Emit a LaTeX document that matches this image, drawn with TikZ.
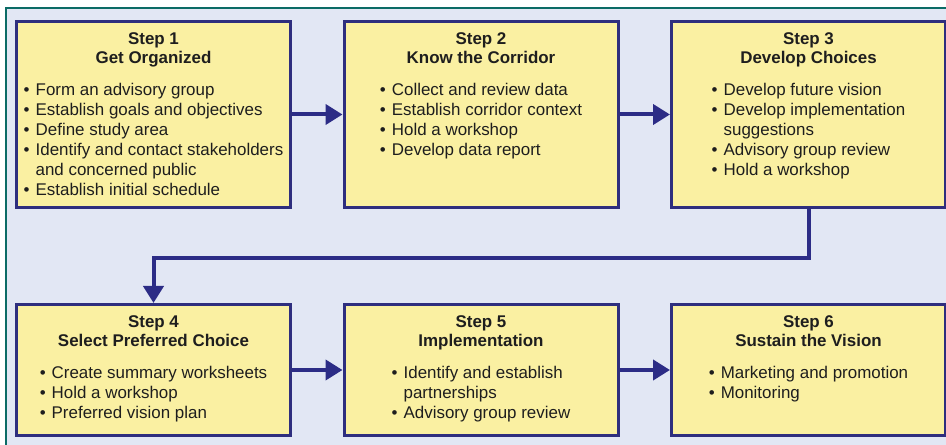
\documentclass[tikz,border=0pt]{standalone}
\usepackage{fontspec}
\setmainfont{Liberation Sans}
\usepackage{tikz}
\usetikzlibrary{arrows.meta,positioning}
\definecolor{boxfill}{HTML}{FAF0A2}
\definecolor{boxline}{HTML}{2E2E7E}
\definecolor{flowline}{HTML}{2C2C86}
\definecolor{framebg}{HTML}{E2E7F4}
\definecolor{frameline}{HTML}{0B6B66}
\definecolor{textc}{HTML}{1E1E1E}
\newcommand{\itm}[1]{\textbullet\hspace{6bp}#1}
\newcommand{\cnt}[1]{\hphantom{\textbullet\hspace{6bp}}#1}

\begin{document}
\begin{tikzpicture}[>={Triangle[length=17bp,width=20bp]}, line join=miter]
      \tikzstyle{every node}=[font=\fontsize{17}{20}\selectfont, text=textc]
      \tikzstyle{stepbox}=[draw=boxline, fill=boxfill, line width=3bp, minimum width=274bp, inner sep=0pt]
      \tikzstyle{stephead}=[align=center, font=\fontsize{17}{20}\selectfont\bfseries, inner sep=0pt]
      \tikzstyle{steplist}=[align=left, inner sep=0pt]
      \tikzstyle{flow}=[->, draw=flowline, line width=4bp]
      %%
\useasboundingbox (0,0) rectangle (946bp,445bp);
\fill [white] (0,0) rectangle (946bp,445bp);
\fill [framebg] (6bp,0bp) rectangle (946bp,437bp);
\draw [frameline, line width=2.5bp] (6bp,0bp) -- (6bp,437bp) -- (946bp,437bp);
%%
  \node (s_1) at (153.5bp,330.5bp) [stepbox, minimum height=186bp] {};
  \node (s_2) at (481bp,330.5bp) [stepbox, minimum height=186bp] {};
  \node (s_3) at (808.5bp,330.5bp) [stepbox, minimum height=186bp] {};
  \node (s_4) at (153.5bp,75bp) [stepbox, minimum height=131bp] {};
  \node (s_5) at (481bp,75bp) [stepbox, minimum height=131bp] {};
  \node (s_6) at (808.5bp,75bp) [stepbox, minimum height=131bp] {};
%
  \node (h_1) [stephead, below=12bp of s_1.north] {Step 1\\Get Organized};
  \node (h_2) [stephead, below=12bp of s_2.north] {Step 2\\Know the Corridor};
  \node (h_3) [stephead, below=12bp of s_3.north] {Step 3\\Develop Choices};
  \node (h_4) [stephead, below=12bp of s_4.north] {Step 4\\Select Preferred Choice};
  \node (h_5) [stephead, below=12bp of s_5.north] {Step 5\\Implementation};
  \node (h_6) [stephead, below=12bp of s_6.north] {Step 6\\Sustain the Vision};
%
  \node (l_1) [steplist, below=63bp of s_1.north] {\itm{Form an advisory group}\\\itm{Establish goals and objectives}\\\itm{Define study area}\\\itm{Identify and contact stakeholders}\\\cnt{and concerned public}\\\itm{Establish initial schedule}};
  \node (l_2) [steplist, below=63bp of s_2.north] {\itm{Collect and review data}\\\itm{Establish corridor context}\\\itm{Hold a workshop}\\\itm{Develop data report}};
  \node (l_3) [steplist, below=63bp of s_3.north] {\itm{Develop future vision}\\\itm{Develop implementation}\\\cnt{suggestions}\\\itm{Advisory group review}\\\itm{Hold a workshop}};
  \node (l_4) [steplist, below=63bp of s_4.north] {\itm{Create summary worksheets}\\\itm{Hold a workshop}\\\itm{Preferred vision plan}};
  \node (l_5) [steplist, below=63bp of s_5.north] {\itm{Identify and establish}\\\cnt{partnerships}\\\itm{Advisory group review}};
  \node (l_6) [steplist, below=63bp of s_6.north] {\itm{Marketing and promotion}\\\itm{Monitoring}};
%
  \draw [flow] (s_1) -- (s_2);
  \draw [flow] (s_2) -- (s_3);
  \draw [flow] (s_3.south) -- ++(0,-49bp) -| (s_4.north);
  \draw [flow] (s_4) -- (s_5);
  \draw [flow] (s_5) -- (s_6);
%

    \end{tikzpicture}
\end{document}
